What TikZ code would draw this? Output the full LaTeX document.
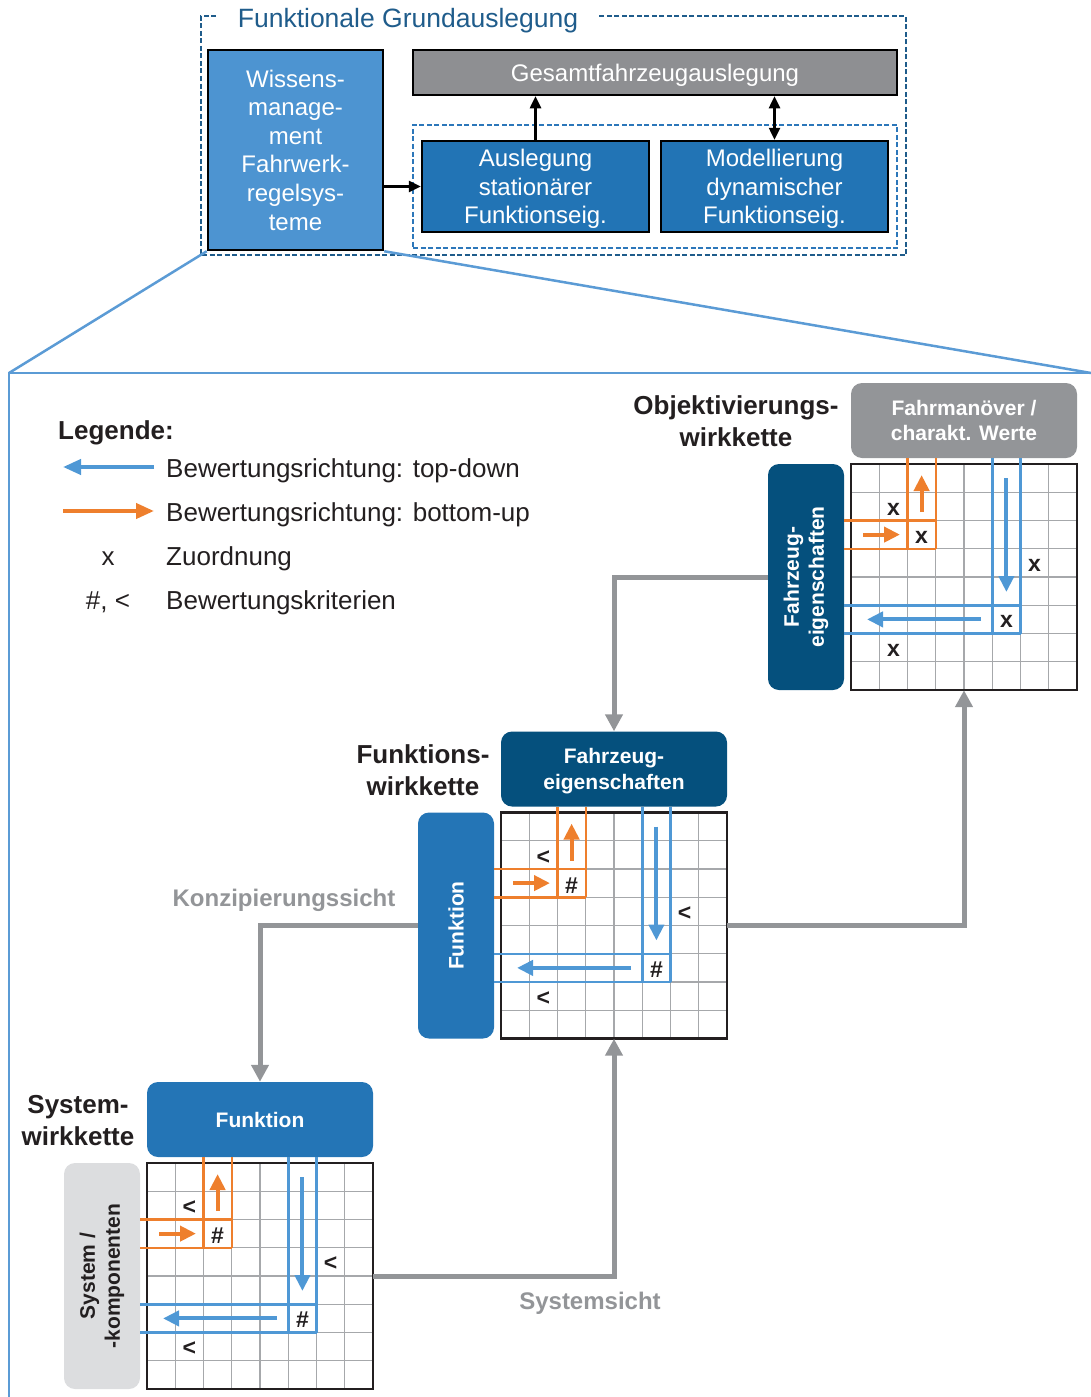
\documentclass[tikz,border=0pt]{standalone}
\usepackage{fontspec}
\setmainfont{Liberation Sans}
\usetikzlibrary{arrows.meta}

\definecolor{frameblue}{HTML}{1F5C8B}
\definecolor{innerblue}{HTML}{2C77BA}
\definecolor{wmblue}{HTML}{4D94D1}
\definecolor{boxblue}{HTML}{2274B5}
\definecolor{boxgray}{HTML}{8E8F92}
\definecolor{zoomblue}{HTML}{5B9BD5}
\definecolor{hdrgray}{HTML}{939598}
\definecolor{darkblue}{HTML}{05507D}
\definecolor{midblue}{HTML}{2475B6}
\definecolor{lightgray}{HTML}{DCDDDF}
\definecolor{gridgray}{HTML}{A6A8AB}
\definecolor{upcol}{HTML}{EE7F2D}
\definecolor{downcol}{HTML}{4F98D5}
\definecolor{textdark}{HTML}{231F20}

\tikzset{
  topbox/.style={draw=black, line width=2.5pt, inner sep=0pt, text=white, align=center,
    font=\fontsize{24}{28.6}\selectfont},
  dashbox/.style={line width=2.4pt, dash pattern=on 5pt off 2.5pt},
  blk/.style={line width=2.5pt, draw=black},
  hdr/.style={rounded corners=11pt, minimum width=226pt, minimum height=75pt, inner sep=0pt,
    text depth=0pt, text=white, align=center, font=\bfseries\fontsize{21}{25.5}\selectfont},
  side/.style={rounded corners=11pt, minimum width=76pt, minimum height=226pt, inner sep=0pt},
  sidetext/.style={rotate=90, align=center, font=\bfseries\fontsize{21}{25}\selectfont},
  chain/.style={align=center, text=textdark, font=\bfseries\fontsize{26}{32}\selectfont},
  sicht/.style={text=hdrgray, font=\bfseries\fontsize{24}{28}\selectfont},
  legtext/.style={anchor=base west, inner sep=0pt, text=textdark, font=\fontsize{26}{30}\selectfont},
  gridline/.style={draw=gridgray, line width=1.3pt},
  gridframe/.style={draw=textdark, line width=2.7pt},
  oband/.style={draw=upcol, line width=2.5pt},
  bband/.style={draw=downcol, line width=2.5pt},
  upflow/.style={draw=upcol, line width=4pt, -{Triangle[length=16pt,width=15pt]}},
  downflow/.style={draw=downcol, line width=4pt, -{Triangle[length=16pt,width=15pt]}},
  cmark/.style={text=textdark, inner sep=0pt, font=\bfseries\fontsize{23}{26}\selectfont},
  viewlink/.style={draw=hdrgray, line width=5pt, -{Triangle[length=17pt,width=17pt]}},
}

% one evaluation matrix: #1 name prefix, #2/#3 top-left corner,
% #4 mark of the outer cells, #5 mark of the cells on the evaluation paths
\newcommand\wkgrid[5]{%
  \begin{scope}[shift={(#2,#3)}]
    \foreach \i in {1,...,7}{
      \draw[gridline] (\i*28.25,0) -- (\i*28.25,226);
      \draw[gridline] (0,\i*28.25) -- (226,\i*28.25);
    }
    \draw[gridframe] (0,0) rectangle (226,226);
    % bottom-up path
    \draw[oband] (56.5,-6) -- (56.5,84.75) (84.75,-6) -- (84.75,84.75)
                 (-7,56.5) -- (84.75,56.5) (-7,84.75) -- (84.75,84.75);
    % top-down path
    \draw[bband] (141.25,-6) -- (141.25,169.5) (169.5,-6) -- (169.5,169.5)
                 (-7,141.25) -- (169.5,141.25) (-7,169.5) -- (169.5,169.5);
    \draw[upflow] (70.6,48) -- (70.6,11);
    \draw[upflow] (12.4,70.6) -- (49,70.6);
    \draw[downflow] (155.4,14) -- (155.4,128);
    \draw[downflow] (130,155.4) -- (16,155.4);
    \node[cmark] (#1-a) at (42.4,45) {#4};
    \node[cmark] (#1-b) at (70.6,73) {#5};
    \node[cmark] (#1-c) at (183.6,101) {#4};
    \node[cmark] (#1-d) at (155.4,157) {#5};
    \node[cmark] (#1-e) at (42.4,186) {#4};
  \end{scope}}

\begin{document}
\begin{tikzpicture}[x=1pt, y=-1pt]
\useasboundingbox (0,0) rectangle (1091,1397);

% ---------- functional base design ----------
\node[text=frameblue, font=\fontsize{26.5}{30}\selectfont] (title) at (408,21) {Funktionale Grundauslegung};
\draw[dashbox, draw=frameblue] (216,16) -- (201,16) -- (201,255) -- (906,255) -- (906,16) -- (599,16);

\node[topbox, fill=wmblue, minimum width=175pt, minimum height=200pt] (wm) at (295.5,150)
  {Wissens-\\manage-\\ment\\Fahrwerk-\\regelsys-\\teme};
\node[topbox, fill=boxgray, minimum width=484pt, minimum height=45pt, text depth=0pt] (ges) at (655,72.5)
  {Gesamtfahrzeugauslegung};
\node[dashbox, draw=innerblue, minimum width=484pt, minimum height=123pt, inner sep=0pt] (inner) at (655,186.5) {};
\node[topbox, fill=boxblue, minimum width=227pt, minimum height=91pt, text depth=0pt] (ausl) at (535.5,186.5)
  {Auslegung\\stationärer\\Funktionseig.};
\node[topbox, fill=boxblue, minimum width=227pt, minimum height=91pt, text depth=0pt] (mod) at (774.5,186.5)
  {Modellierung\\dynamischer\\Funktionseig.};

\draw[blk, -{Triangle[length=12pt,width=11pt]}] (wm.east |- ausl.west) -- (ausl.west);
\draw[blk, -{Triangle[length=12pt,width=11pt]}] (ausl.north) -- (ausl.north |- ges.south);
\draw[blk, {Triangle[length=12pt,width=11pt]}-{Triangle[length=12pt,width=11pt]}] (mod.north) -- (mod.north |- ges.south);

% ---------- detail frame ----------
\coordinate (frL) at (9,373);
\coordinate (frR) at (1091,373);
\coordinate (frB) at (9,1397);
\draw[zoomblue, line width=2.5pt] (wm.south west) -- (frL);
\draw[zoomblue, line width=2.5pt] (wm.south east) -- (frR);
\draw[zoomblue, line width=2.5pt] (frB) -- (frL) -- (frR);

% ---------- legend ----------
\node[anchor=base west, inner sep=0pt, text=textdark, font=\bfseries\fontsize{26}{30}\selectfont] (leg) at (58,439) {Legende:};
\coordinate (lgA1) at (154,467); \coordinate (lgA2) at (63,467);
\coordinate (lgB1) at (63,511);  \coordinate (lgB2) at (154,511);
\draw[downflow, -{Triangle[length=18pt,width=15pt]}] (lgA1) -- (lgA2);
\draw[upflow, -{Triangle[length=18pt,width=15pt]}] (lgB1) -- (lgB2);
\node[legtext] (lg1) at (166,477) {Bewertungsrichtung: top-down};
\node[legtext] (lg2) at (166,521) {Bewertungsrichtung: bottom-up};
\node[legtext, anchor=base] (lg3s) at (108,565) {x};
\node[legtext] (lg3) at (166,565) {Zuordnung};
\node[legtext, anchor=base] (lg4s) at (108,609) {\#, <};
\node[legtext] (lg4) at (166,609) {Bewertungskriterien};

% ---------- the three chains ----------
\node[hdr, fill=hdrgray] (h1) at (964,420.5) {Fahrmanöver /\\charakt. Werte};
\node[side, fill=darkblue] (s1) at (806,577) {};
\node[sidetext, text=white] (s1t) at (s1.center) {Fahrzeug-\\eigenschaften};
\node[minimum size=226pt, inner sep=0pt] (m1) at (964,577) {};
\wkgrid{m1}{851}{464}{x}{x}
\node[chain] (c1) at (736,421) {Objektivierungs-\\wirkkette};

\node[hdr, fill=darkblue] (h2) at (614,769) {Fahrzeug-\\eigenschaften};
\node[side, fill=midblue] (s2) at (456,925.5) {};
\node[sidetext, text=white] (s2t) at (s2.center) {Funktion};
\node[minimum size=226pt, inner sep=0pt] (m2) at (614,925.5) {};
\wkgrid{m2}{501}{812.5}{<}{\#}
\node[chain] (c2) at (423,770) {Funktions-\\wirkkette};

\node[hdr, fill=midblue] (h3) at (260,1119.5) {Funktion};
\node[side, fill=lightgray] (s3) at (102,1276) {};
\node[sidetext, text=textdark] (s3t) at (s3.center) {System /\\-komponenten};
\node[minimum size=226pt, inner sep=0pt] (m3) at (260,1276) {};
\wkgrid{m3}{147}{1163}{<}{\#}
\node[chain] (c3) at (78,1120.5) {System-\\wirkkette};

% ---------- links between the chains ----------
\draw[viewlink] (s1.west) -| (h2.north);
\draw[viewlink] (s2.west) -| (h3.north);
\draw[viewlink] (m3.east) -| (m2.south);
\draw[viewlink] (m2.east) -| (m1.south);
\node[sicht] (konz) at (284,900) {Konzipierungssicht};
\node[sicht] (syss) at (590,1303) {Systemsicht};

\end{tikzpicture}
\end{document}
